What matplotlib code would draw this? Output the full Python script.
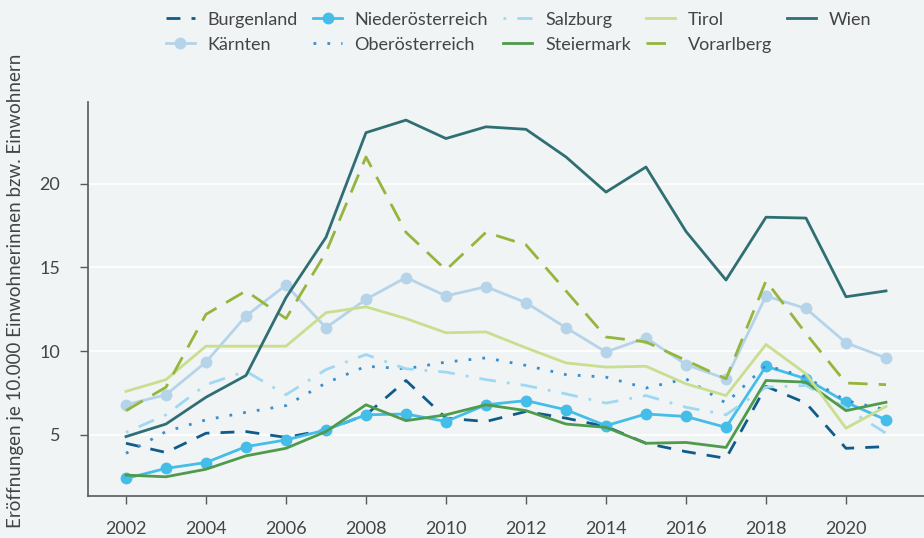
import numpy as np
import matplotlib
matplotlib.use("Agg")
import matplotlib.pyplot as plt

plt.rcParams['font.family'] = ['Lato', 'DejaVu Sans']

# Jahre und Werte je Bundesland (Eröffnungen je 10.000 Einwohner)
jahre = list(range(2002, 2022))

burgenland = [4.5, 3.95, 5.1, 5.2, 4.85, 5.3, 6.2, 8.25, 6.0, 5.8, 6.4, 6.0, 5.5, 4.5, 4.0, 3.6, 7.9, 6.9, 4.2, 4.3]
kaernten = [6.8, 7.4, 9.35, 12.1, 13.95, 11.4, 13.1, 14.4, 13.3, 13.85, 12.9, 11.4, 9.95, 10.8, 9.2, 8.35, 13.3, 12.55, 10.5, 9.6]
niederoe = [2.4, 3.0, 3.35, 4.3, 4.7, 5.3, 6.2, 6.25, 5.8, 6.8, 7.05, 6.5, 5.55, 6.25, 6.1, 5.45, 9.1, 8.35, 6.95, 5.9]
oberoe = [3.9, 5.2, 5.9, 6.35, 6.75, 8.1, 9.1, 8.95, 9.35, 9.6, 9.15, 8.6, 8.45, 7.8, 8.35, 6.9, 9.15, 8.45, 7.05, 6.5]
salzburg = [5.15, 6.2, 8.0, 8.8, 7.4, 8.9, 9.8, 8.95, 8.75, 8.3, 7.95, 7.45, 6.9, 7.35, 6.65, 6.2, 7.85, 7.95, 6.6, 5.1]
steiermark = [2.6, 2.5, 2.95, 3.75, 4.2, 5.2, 6.8, 5.85, 6.2, 6.8, 6.45, 5.65, 5.45, 4.5, 4.55, 4.25, 8.25, 8.15, 6.45, 6.95]
tirol = [7.6, 8.3, 10.3, 10.3, 10.3, 12.3, 12.65, 11.95, 11.1, 11.15, 10.2, 9.3, 9.05, 9.1, 8.05, 7.35, 10.4, 8.65, 5.4, 6.7]
vorarlberg = [6.45, 7.85, 12.2, 13.6, 11.95, 15.9, 21.6, 17.1, 14.85, 17.1, 16.35, 13.6, 10.85, 10.55, 9.45, 8.35, 14.2, 11.05, 8.1, 8.0]
wien = [4.9, 5.65, 7.25, 8.55, 13.2, 16.8, 23.05, 23.8, 22.7, 23.4, 23.25, 21.6, 19.5, 21.0, 17.15, 14.25, 18.0, 17.95, 13.25, 13.6]

bg = "#f0f4f5"
txt = "#444444"

fig = plt.figure(figsize=(9.24, 5.38), dpi=100, facecolor=bg)
ax = fig.add_axes([0.0952, 0.078, 0.9048, 0.733], facecolor=bg)

lw = 2.0
ax.plot(jahre, burgenland, color="#0f5c8a", lw=lw, dashes=(5, 4), label="Burgenland")
ax.plot(jahre, kaernten, color="#b5d4ea", lw=lw, marker="o", ms=7.5, label="Kärnten")
ax.plot(jahre, niederoe, color="#45bde9", lw=lw, marker="o", ms=7.5, label="Niederösterreich")
ax.plot(jahre, oberoe, color="#3a8ed0", lw=lw, dashes=(1, 4), label="Oberösterreich")
ax.plot(jahre, salzburg, color="#9fd8f2", lw=lw, dashes=(1, 4, 6, 4), label="Salzburg")
ax.plot(jahre, steiermark, color="#4f9a4b", lw=lw, label="Steiermark")
ax.plot(jahre, tirol, color="#c9de8e", lw=lw, label="Tirol")
ax.plot(jahre, vorarlberg, color="#95b53c", lw=lw, dashes=(7, 4), label="Vorarlberg")
ax.plot(jahre, wien, color="#2f6f73", lw=lw, label="Wien")

ax.set_xlim(2001.05, 2021.95)
ax.set_ylim(1.35, 24.9)
ax.set_xticks(range(2002, 2022, 2))
ax.set_yticks([5, 10, 15, 20])
ax.yaxis.grid(True, color="white", lw=1.3)
ax.set_axisbelow(True)

for s in ["top", "right"]:
    ax.spines[s].set_visible(False)
for s in ["left", "bottom"]:
    ax.spines[s].set_color("#555a5e")
    ax.spines[s].set_linewidth(1.2)

ax.tick_params(axis="both", colors="#555a5e", labelcolor=txt, labelsize=13, width=1.0)
ax.tick_params(axis="y", length=6, pad=14)
ax.tick_params(axis="x", length=6, pad=12)

ax.set_ylabel("Eröffnungen je 10.000 Einwohnerinnen bzw. Einwohnern", fontsize=13.5, color=txt)
ax.yaxis.set_label_coords(-0.077, 0.52)

leg = ax.legend(ncol=5, loc="upper left", bbox_to_anchor=(0.0933, 1.228), frameon=False,
                fontsize=13, handlelength=1.6, columnspacing=0.85, labelspacing=0.5,
                handletextpad=0.7, borderpad=0, borderaxespad=0)
for t in leg.get_texts():
    t.set_color(txt)

fig.savefig("out.png", dpi=100, facecolor=bg)
